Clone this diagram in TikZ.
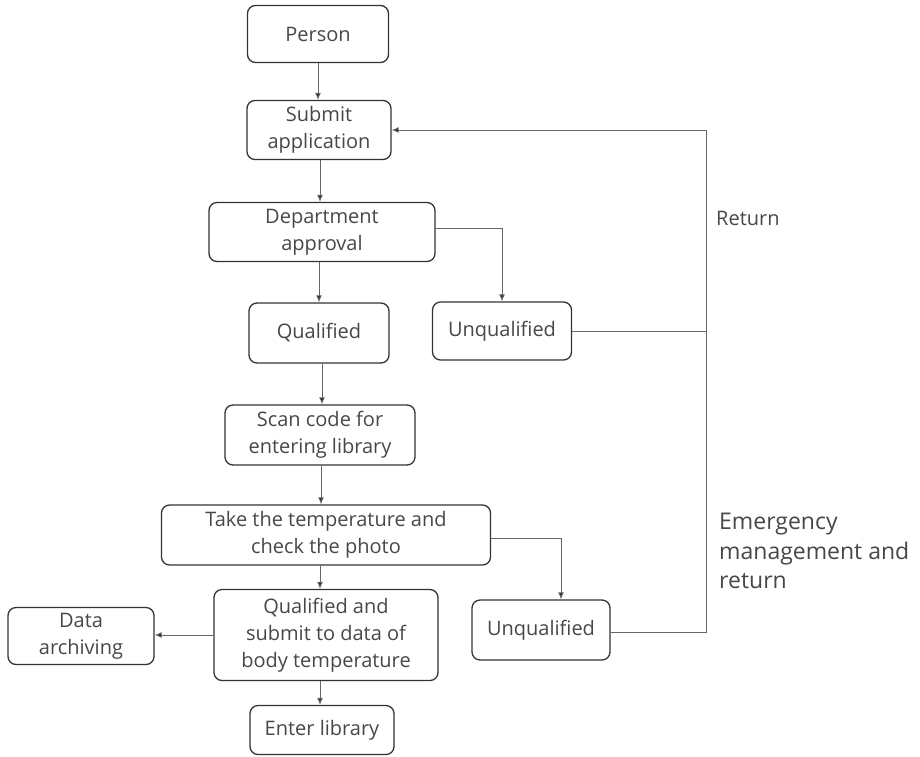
\documentclass[tikz,border=0pt]{standalone}
\usepackage{fontspec}
\setmainfont{Open Sans}
\usetikzlibrary{arrows.meta}
\begin{document}
\begin{tikzpicture}[x=1pt,y=-1pt,
	box/.style={draw=black!80, line width=1.3pt, rounded corners=8pt, align=center,
		text=black!72, font=\fontsize{20}{27}\selectfont, inner sep=0pt},
	link/.style={draw=black!60, line width=0.9pt, -{Latex[length=7pt,width=6pt,fill=black!85]}},
	wire/.style={draw=black!60, line width=0.9pt},
	note/.style={text=black!72, align=left, inner sep=0pt}]
	% Frame of the picture
	\useasboundingbox (0,0) rectangle (920,756);

	% Boxes
	\node[box, minimum width=141pt, minimum height=57pt] (person) at (318,34) {Person};
	\node[box, minimum width=144pt, minimum height=59pt] (submit) at (319,130) {Submit\\application};
	\node[box, minimum width=226pt, minimum height=59pt] (dept) at (322,232) {Department\\approval};
	\node[box, minimum width=140pt, minimum height=60pt] (qual) at (319,333) {Qualified};
	\node[box, minimum width=139pt, minimum height=58pt] (unqa) at (502,331) {Unqualified};
	\node[box, minimum width=190pt, minimum height=60pt] (scan) at (320,435) {Scan code for\\entering library};
	\node[box, minimum width=329pt, minimum height=60pt] (temp) at (326,535) {Take the temperature and\\check the photo};
	\node[box, minimum width=224pt, minimum height=91pt] (qsub) at (326,635) {Qualified and\\submit to data of\\body temperature};
	\node[box, minimum width=138pt, minimum height=60pt] (unqb) at (541,630) {Unqualified};
	\node[box, minimum width=146pt, minimum height=57pt] (arch) at (81,636) {Data\\archiving};
	\node[box, minimum width=144pt, minimum height=49pt] (enter) at (322,730) {Enter library};

	% Labels of the return path
	\node[note, anchor=west, font=\fontsize{20}{27}\selectfont] (ret) at (716,218) {Return};
	\node[note, anchor=west, font=\fontsize{23}{29.5}\selectfont] (emg) at (719,551) {Emergency\\management and\\return};

	% Main flow, straight down
	\draw[link] (person.south) -- (person.south |- submit.north);
	\draw[link] ([xshift=1pt]submit.south) -- ([xshift=1pt]submit.south |- dept.north);
	\draw[link] (qual.north |- dept.south) -- (qual.north);
	\draw[link] ([xshift=3pt]qual.south) -- ([xshift=3pt]qual.south |- scan.north);
	\draw[link] ([xshift=1pt]scan.south) -- ([xshift=1pt]scan.south |- temp.north);
	\draw[link] ([xshift=-6pt]temp.south) -- ([xshift=-6pt]temp.south |- qsub.north);
	\draw[link] ([xshift=-6pt]qsub.south) -- ([xshift=-6pt]qsub.south |- enter.north);
	\draw[link] (qsub.west) -- (qsub.west -| arch.east);

	% Branches to unqualified
	\draw[link] ([yshift=4pt]dept.east) -| (unqa.north);
	\draw[link] ([yshift=-3pt]temp.east) -| ([xshift=20pt]unqb.north);

	% Return path
	\coordinate (bend) at (706,130);
	\draw[wire] (unqa.east) -- (unqa.east -| bend);
	\draw[link] ([yshift=-2pt]unqb.east) -- ([yshift=-2pt]unqb.east -| bend) -- (bend) -- (submit.east);
\end{tikzpicture}
\end{document}
